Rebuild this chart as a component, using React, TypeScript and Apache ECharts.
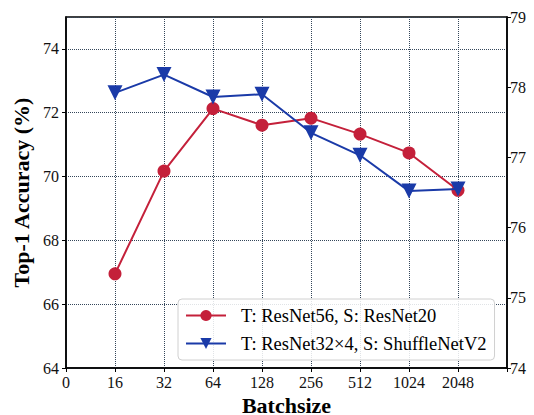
import React, { useEffect, useRef } from "react";
import * as echarts from "echarts";

const batchLabels = ["0", "16", "32", "64", "128", "256", "512", "1024", "2048", ""];
const positions = [1, 2, 3, 4, 5, 6, 7, 8];
const resnet56Acc = [66.95, 70.17, 72.13, 71.61, 71.83, 71.33, 70.74, 69.57];
const resnet32x4Acc = [77.92, 78.18, 77.86, 77.9, 77.35, 77.03, 76.52, 76.55];
const leftTicks = [64, 66, 68, 70, 72, 74];
const rightTicks = [74, 75, 76, 77, 78, 79];

const RED = "#c4203a";
const BLUE = "#1a3aa8";
const FONT = "Liberation Serif";

export default function App() {
  const ref = useRef<HTMLDivElement>(null);
  useEffect(() => {
    if (!ref.current) return;
    const chart = echarts.init(ref.current, undefined, { renderer: "svg" });
    chart.setOption({
      animation: false,
      backgroundColor: "#fff",
      textStyle: { fontFamily: FONT },
      grid: {
        left: 66,
        right: 27,
        top: 17,
        bottom: 47,
        show: true,
        borderColor: "#000",
        borderWidth: 1.5,
        backgroundColor: "transparent",
        outerBoundsMode: "none",
        containLabel: false,
      },
      legend: {
        orient: "vertical",
        left: 178,
        top: 299,
        itemWidth: 40,
        itemHeight: 14,
        itemGap: 9,
        padding: [7, 8, 7, 7],
        backgroundColor: "rgba(255,255,255,0.85)",
        borderColor: "#d0d0d0",
        borderWidth: 1,
        borderRadius: 4,
        textStyle: { fontFamily: FONT, fontSize: 18.5, color: "#000", padding: [0, 0, 0, 10] },
        data: ["T: ResNet56, S: ResNet20", "T: ResNet32×4, S: ShuffleNetV2"],
      },
      xAxis: {
        type: "value",
        min: 0,
        max: 9,
        interval: 1,
        name: "Batchsize",
        nameLocation: "middle",
        nameGap: 21,
        nameTextStyle: { fontFamily: FONT, fontSize: 22, lineHeight: 20, fontWeight: "bold", color: "#000" },
        axisLine: { show: true, lineStyle: { color: "#000", width: 1.5 } },
        axisTick: { show: true, length: 4, lineStyle: { color: "#000" } },
        axisLabel: {
          fontFamily: FONT,
          fontSize: 16,
          color: "#111",
          margin: 6,
          formatter: (v: number) => batchLabels[Math.round(v)] ?? "",
        },
        splitLine: { show: true, lineStyle: { type: "dotted", color: "#34465a", width: 1 } },
      },
      yAxis: [
        {
          type: "value",
          min: leftTicks[0],
          max: 75,
          interval: 2,
          name: "Top-1 Accuracy (%)",
          nameLocation: "middle",
          nameGap: 34,
          nameRotate: 90,
          nameTextStyle: { fontFamily: FONT, fontSize: 22, fontWeight: "bold", color: "#000" },
          axisLine: { show: true, lineStyle: { color: "#000", width: 1.5 } },
          axisTick: { show: true, length: 4, lineStyle: { color: "#000" } },
          axisLabel: {
            fontFamily: FONT,
            fontSize: 16,
            color: "#111",
            margin: 7,
            showMaxLabel: false,
            formatter: (v: number) => (leftTicks.includes(v) ? String(v) : ""),
          },
          splitLine: { show: true, lineStyle: { type: "dotted", color: "#34465a", width: 1 } },
        },
        {
          type: "value",
          min: rightTicks[0],
          max: rightTicks[rightTicks.length - 1],
          interval: 1,
          position: "right",
          axisLine: { show: true, lineStyle: { color: "#000", width: 1.5 } },
          axisTick: { show: true, length: 4, lineStyle: { color: "#000" } },
          axisLabel: { fontFamily: FONT, fontSize: 16, color: "#111", margin: 3 },
          splitLine: { show: false },
        },
      ],
      series: [
        {
          name: "T: ResNet56, S: ResNet20",
          type: "line",
          yAxisIndex: 0,
          data: positions.map((p, i) => [p, resnet56Acc[i]]),
          symbol: "circle",
          symbolSize: 13,
          lineStyle: { color: RED, width: 2 },
          itemStyle: { color: RED },
          z: 3,
        },
        {
          name: "T: ResNet32×4, S: ShuffleNetV2",
          type: "line",
          yAxisIndex: 1,
          data: positions.map((p, i) => [p, resnet32x4Acc[i]]),
          symbol: "triangle",
          symbolRotate: 180,
          symbolSize: 15,
          lineStyle: { color: BLUE, width: 2 },
          itemStyle: { color: BLUE },
          z: 4,
        },
      ],
    });
    return () => chart.dispose();
  }, []);
  return <div ref={ref} style={{ position: "fixed", left: 0, top: 0, width: 534, height: 415 }} />;
}
